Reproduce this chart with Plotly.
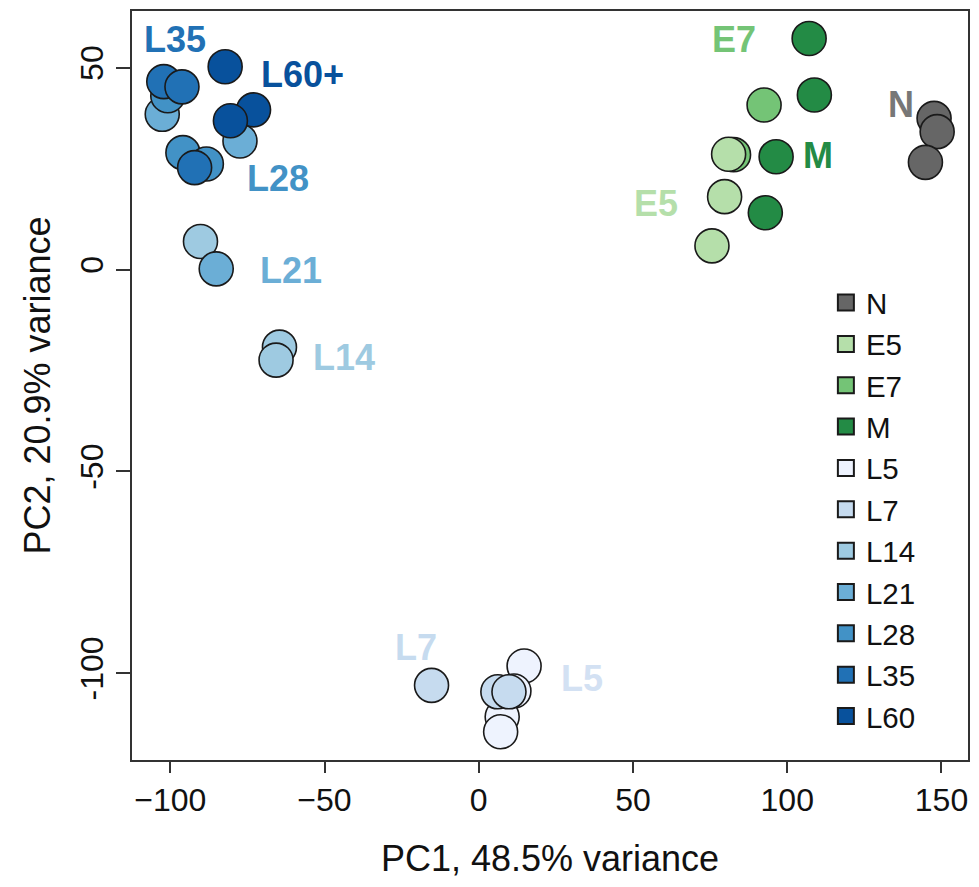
import plotly.graph_objects as go

# PCA scores per sample group (PC1, PC2)
groups = ["N", "E5", "E7", "M", "L5", "L7", "L14", "L21", "L28", "L35", "L60"]
colors = {
    "N": "#666666", "E5": "#B5DFAA", "E7": "#74C476", "M": "#238B45",
    "L5": "#EEF3FE", "L7": "#C6DBEF", "L14": "#9ECAE1", "L21": "#6BAED6",
    "L28": "#4292C6", "L35": "#2171B5", "L60": "#08519C",
}

pc1 = {
    "N": [147.6, 148.6, 144.8],
    "E7": [92.5, 82.6],
    "E5": [81.0, 79.7, 75.6],
    "M": [107.1, 108.8, 96.4, 92.9],
    "L5": [14.7, 11.4, 7.6, 7.1],
    "L7": [-15.3, 6.2, 9.8],
    "L14": [-90.2, -64.6, -65.7],
    "L21": [-102.6, -77.4, -85.1],
    "L28": [-100.8, -95.9, -88.3],
    "L35": [-102.1, -96.2, -92.1],
    "L60": [-82.2, -73.0, -80.5],
}
pc2 = {
    "N": [37.5, 34.2, 26.6],
    "E7": [40.8, 28.5],
    "E5": [28.6, 18.1, 5.9],
    "M": [57.3, 43.3, 28.0, 14.1],
    "L5": [-98.2, -104.4, -110.8, -114.5],
    "L7": [-103.0, -104.6, -104.6],
    "L14": [7.0, -19.2, -22.4],
    "L21": [38.5, 31.9, 0.2],
    "L28": [43.1, 29.0, 26.2],
    "L35": [46.6, 45.3, 25.3],
    "L60": [50.3, 39.6, 36.9],
}

# in-plot group labels: (text, group colour key, PC1, PC2)
group_labels = [
    ("L35", "L35", -98.5, 57.1),
    ("L60+", "L60", -57.1, 48.4),
    ("L28", "L28", -65.2, 22.5),
    ("L21", "L21", -60.8, -0.1),
    ("L14", "L14", -43.6, -21.7),
    ("L7", "L7", -20.2, -93.5),
    ("L5", "L5", 33.4, -101.2),
    ("E7", "E7", 82.6, 57.1),
    ("E5", "E5", 57.3, 16.3),
    ("M", "M", 110.1, 28.2),
    ("N", "N", 136.9, 41.0),
]
label_colors = {"L5": "#D3E1F3", "N": "#777777"}

x_ticks = [-100, -50, 0, 50, 100, 150]
x_ticktext = ["\u2212100", "\u221250", "0", "50", "100", "150"]
y_ticks = [-100, -50, 0, 50]
y_ticktext = ["-100", "-50", "0", "50"]

FONT = "Liberation Sans, Arial, Helvetica, sans-serif"

fig = go.Figure()

draw_order = ["N", "E7", "E5", "M", "L5", "L7", "L14", "L21", "L28", "L35", "L60"]
for g in draw_order:
    fig.add_trace(go.Scatter(
        x=pc1[g], y=pc2[g], mode="markers", name=g, showlegend=False,
        marker=dict(size=34, color=colors[g], opacity=1,
                    line=dict(color="#1a1a1a", width=1.6)),
    ))

# square legend keys
for g in groups:
    fig.add_trace(go.Scatter(
        x=[None], y=[None], mode="markers", name=g, showlegend=True,
        marker=dict(symbol="square", size=18, color=colors[g],
                    line=dict(color="#1a1a1a", width=2)),
    ))

for text, key, lx, ly in group_labels:
    fig.add_annotation(
        x=lx, y=ly, xref="x", yref="y", text="<b>%s</b>" % text,
        showarrow=False,
        font=dict(family=FONT, size=36, color=label_colors.get(key, colors[key])),
    )

axis_common = dict(
    showgrid=False, zeroline=False, showline=True, mirror=True,
    linecolor="#333333", linewidth=2, ticks="outside", tickcolor="#333333",
    tickwidth=2, tickfont=dict(family=FONT, size=32, color="#111111"),
    title_font=dict(family=FONT, size=36, color="#111111"),
)

fig.update_layout(
    width=979, height=887,
    margin=dict(l=132, r=9, t=10, b=127),
    paper_bgcolor="white", plot_bgcolor="white",
    xaxis=dict(range=[-112.4, 158.6], tickvals=x_ticks, ticktext=x_ticktext,
               ticklen=11, title=dict(text="PC1, 48.5% variance", standoff=28),
               **axis_common),
    yaxis=dict(range=[-121.5, 64.1], tickvals=y_ticks, ticktext=y_ticktext,
               ticklen=14, tickangle=-90,
               title=dict(text="PC2, 20.9% variance", standoff=13),
               **axis_common),
    legend=dict(x=0.83, y=0.645, xanchor="left", yanchor="top",
                font=dict(family=FONT, size=29.5, color="#111111"),
                bgcolor="rgba(0,0,0,0)", itemwidth=30, tracegroupgap=0),
)

fig.write_html("out.html")
